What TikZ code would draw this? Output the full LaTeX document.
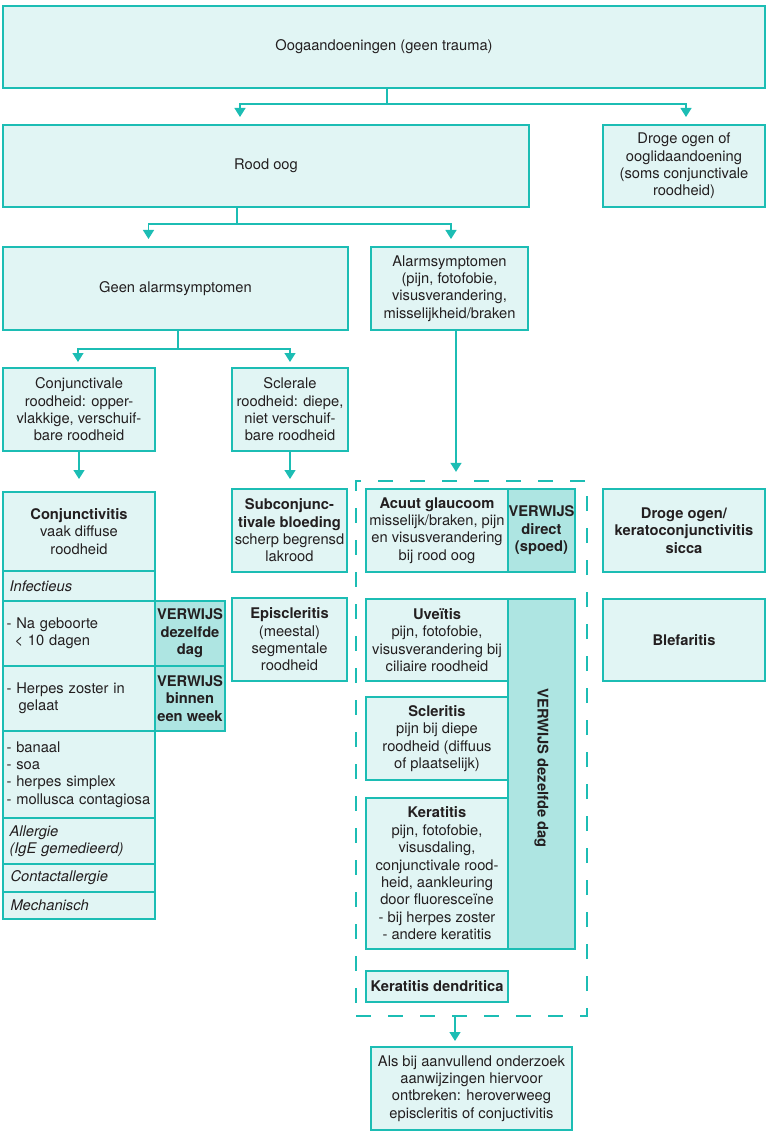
\documentclass[tikz,border=0pt]{standalone}
\usepackage{fontspec}
\setmainfont{TeX Gyre Heros}
\usetikzlibrary{arrows.meta,calc}
\definecolor{tealc}{HTML}{1CBDB4}
\definecolor{lightf}{HTML}{E1F5F4}
\definecolor{darkf}{HTML}{AEE5E2}
\definecolor{txtc}{HTML}{231F20}
\newcommand\myfs{\fontsize{14.7}{17.4}\selectfont}
\begin{document}
\begin{tikzpicture}[x=1pt,y=-1pt,
  box/.style={draw=tealc, fill=lightf, line width=2pt, inner sep=0pt, align=center, font=\myfs, text=txtc},
  dbox/.style={box, fill=darkf, font=\myfs\bfseries},
  lbox/.style={box, align=left, text width=145pt, inner xsep=3.5pt},
  sz/.style 2 args={minimum width=#1, minimum height=#2},
  conn/.style={draw=tealc, line width=1.3pt},
  arr/.style={conn, -{Triangle[width=11pt,length=9pt]}},
  dashbox/.style={draw=tealc, line width=2.3pt, dash pattern=on 15pt off 17pt, inner sep=0pt}
]
\useasboundingbox (0,0) rectangle (768,1131);

% level 1-3
\node[box, sz={762}{82}] (top) at (384,47) {Oogaandoeningen (geen trauma)};
\node[box, sz={526}{82}] (rood) at (266,166) {Rood oog};
\node[box, sz={162}{82}] (droge1) at (684,166) {Droge ogen of\\ooglidaandoening\\(soms conjunctivale\\roodheid)};
\node[box, sz={345}{83}] (geen) at (175.5,288.5) {Geen alarmsymptomen};
\node[box, sz={157}{83}] (alarm) at (449.5,288.5) {Alarmsymptomen\\(pijn, fotofobie,\\visusverandering,\\misselijkheid/braken};
\node[box, sz={152}{83}] (conjred) at (79,409.5) {Conjunctivale\\roodheid: opper-\\vlakkige, verschuif-\\bare roodheid};
\node[box, sz={116}{83}] (sclred) at (290,409.5) {Sclerale\\roodheid: diepe,\\niet verschuif-\\bare roodheid};

% left column
\node[box, sz={152}{79}] (conjhead) at (79,531.5) {\textbf{Conjunctivitis}\\vaak diffuse\\roodheid};
\node[lbox, sz={152}{30}] (infect) at (79,586) {\hspace*{3pt}\textit{Infectieus}};
\node[lbox, sz={152}{65}] (nageb) at (79,633.5) {- Na geboorte\\\hspace*{8pt}< 10 dagen};
\node[lbox, sz={152}{65}] (herpes) at (79,698.5) {- Herpes zoster in\\\hspace*{12pt}gelaat};
\node[lbox, sz={152}{87}] (banaal) at (79,774.5) {- banaal\\- soa\\- herpes simplex\\- mollusca contagiosa};
\node[lbox, sz={152}{46}] (allergie) at (79,841) {\hspace*{3pt}\textit{Allergie}\\\hspace*{3pt}\textit{(IgE gemedieerd)}};
\node[lbox, sz={152}{28}] (contact) at (79,878) {\hspace*{4pt}\textit{Contactallergie}};
\node[lbox, sz={152}{27}] (mech) at (79,905.5) {\hspace*{4pt}\textit{Mechanisch}};
\node[dbox, sz={70}{65}] (v1) at (190,633.5) {VERWIJS\\dezelfde\\dag};
\node[dbox, sz={70}{65}] (v2) at (190,698.5) {VERWIJS\\binnen\\een week};

% middle column
\node[box, sz={115}{83}] (subconj) at (289.5,530.5) {\textbf{Subconjunc-}\\\textbf{tivale bloeding}\\scherp begrensd\\lakrood};
\node[box, sz={115}{83}] (episcl) at (289.5,639.5) {\textbf{Episcleritis}\\(meestal)\\segmentale\\roodheid};

% dashed group
\node[dashbox, sz={231}{535}] (group) at (471.5,748.5) {};
\node[box, sz={142}{83}] (glauc) at (437,530.5) {\textbf{Acuut glaucoom}\\misselijk/braken, pijn\\en visusverandering\\bij rood oog};
\node[dbox, sz={67}{83}] (vdirect) at (541.5,530.5) {VERWIJS\\direct\\(spoed)};
\node[dbox, sz={67}{350}] (vbar) at (541.5,774) {};
\node[font=\myfs\bfseries, text=txtc, rotate=-90] (vbartxt) at (541.5,768) {VERWIJS dezelfde dag};
\node[box, sz={142}{82}] (uveitis) at (437,640) {\textbf{Uveïtis}\\pijn, fotofobie,\\visusverandering bij\\ciliaire roodheid};
\node[box, sz={142}{83}] (scleritis) at (437,738.5) {\textbf{Scleritis}\\pijn bij diepe\\roodheid (diffuus\\of plaatselijk)};
\node[box, sz={142}{151}] (keratitis) at (437,873.5) {\textbf{Keratitis}\\pijn, fotofobie,\\visusdaling,\\conjunctivale rood-\\heid, aankleuring\\door fluoresceïne\\- bij herpes zoster\\- andere keratitis};
\node[box, sz={142}{31}] (dendr) at (437,986.5) {\textbf{Keratitis dendritica}};

% right column
\node[box, sz={162}{83}] (droge2) at (684,530.5) {\textbf{Droge ogen/}\\\textbf{keratoconjunctivitis}\\\textbf{sicca}};
\node[box, sz={162}{82}] (blef) at (684,640) {\textbf{Blefaritis}};

% bottom
\node[box, sz={201}{83}] (bottom) at (471.5,1088.5) {Als bij aanvullend onderzoek\\aanwijzingen hiervoor\\ontbreken: heroverweeg\\episcleritis of conjuctivitis};

% connectors
\draw[conn] ([xshift=3pt]top.south) -- ++(0,15) coordinate (j1);
\draw[arr, shorten >=7pt] (j1) -| ([xshift=-26pt]rood.north);
\draw[arr, shorten >=7pt] (j1) -| ([xshift=2pt]droge1.north);

\draw[conn] ([xshift=-29pt]rood.south) -- ++(0,16) coordinate (j2);
\draw[arr, shorten >=7pt] (j2) -| ([xshift=-27pt]geen.north);
\draw[arr, shorten >=7pt] (j2) -| ([xshift=1.5pt]alarm.north);

\draw[conn] ([xshift=2.5pt]geen.south) -- ++(0,18) coordinate (j3);
\draw[arr, shorten >=5pt] (j3) -| ([xshift=-1pt]conjred.north);
\draw[arr, shorten >=5pt] (j3) -| (sclred.north);

\draw[arr, shorten >=12pt] (conjred.south) -- (conjhead.north);
\draw[arr, shorten >=9pt] (sclred.south) -- (sclred.south |- subconj.north);
\draw[arr, shorten >=8pt] ([xshift=6.5pt]alarm.south) -- ([xshift=6.5pt]alarm.south |- group.north);
\draw[arr, shorten >=5pt] ([xshift=-16.5pt]group.south) -- ([xshift=-16.5pt]bottom.north);
\end{tikzpicture}
\end{document}
